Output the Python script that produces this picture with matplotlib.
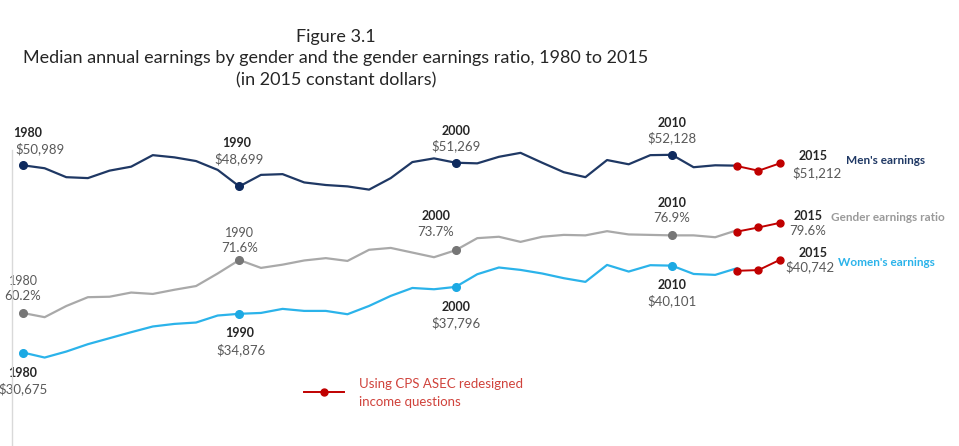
import matplotlib
matplotlib.use("Agg")
import matplotlib.pyplot as plt
from matplotlib.lines import Line2D

plt.rcParams['font.family'] = ['Lato', 'DejaVu Sans']

# ---------------- data ----------------
years = list(range(1980, 2014))
men = [50989, 50670, 49700, 49600, 50410, 50840, 52090, 51850, 51450, 50490,
       48699, 49950, 50030, 49130, 48850, 48700, 48350, 49600, 51340, 51740,
       51269, 51200, 51910, 52340, 51270, 50240, 49700, 51560, 51100, 52090,
       52128, 50780, 50990, 50950]
women = [30675, 30130, 30780, 31580, 32230, 32880, 33500, 33780, 33930, 34690,
         34876, 34970, 35410, 35190, 35190, 34830, 35730, 36820, 37680, 37540,
         37796, 39170, 39900, 39640, 39250, 38740, 38340, 40180, 39460, 40150,
         40101, 39200, 39100, 39820]
ratio = [60.2, 59.3, 61.7, 63.6, 63.7, 64.6, 64.3, 65.2, 66.0, 68.7,
         71.6, 69.9, 70.6, 71.5, 72.0, 71.4, 73.8, 74.2, 73.2, 72.2,
         73.7, 76.3, 76.6, 75.5, 76.6, 77.0, 76.9, 77.8, 77.1, 77.0,
         76.9, 76.9, 76.5, 78.0]

years_new = [2013, 2014, 2015]
men_new = [50910, 50400, 51212]
women_new = [39540, 39620, 40742]
ratio_new = [77.7, 78.6, 79.6]

highlight_years = [1980, 1990, 2000, 2010]

# ---------------- style ----------------
C_MEN, C_MEN_PT = '#1f3864', '#0e2a5e'
C_WOM, C_WOM_PT = '#2bb3ea', '#1ca9e3'
C_RAT, C_RAT_PT = '#a9a9a9', '#767676'
C_RED = '#c00000'
C_YEAR = '#262626'
C_VAL = '#595959'

fig = plt.figure(figsize=(9.59, 4.46), dpi=100)
ax = fig.add_axes([0, 0, 1, 1])
ax.set_xlim(1978.937, 2023.27)
ax.set_ylim(20533, 68924)
ax2 = ax.twinx()
ax2.set_ylim(31.59, 127.53)
ax.axis('off')
ax2.axis('off')

# light vertical axis line
fig.add_artist(Line2D([12 / 959, 12 / 959], [0, 1 - 150 / 446], color='#d9d9d9', lw=1))

LW = 1.6
ax.plot(years, men, color=C_MEN, lw=LW, zorder=3)
ax.plot(years, women, color=C_WOM, lw=LW, zorder=3)
ax2.plot(years, ratio, color=C_RAT, lw=LW, zorder=3)

hi_idx = [years.index(y) for y in highlight_years]
ax.plot([years[i] for i in hi_idx], [men[i] for i in hi_idx], 'o', color=C_MEN_PT, ms=5.5, zorder=4)
ax.plot([years[i] for i in hi_idx], [women[i] for i in hi_idx], 'o', color=C_WOM_PT, ms=5.5, zorder=4)
ax2.plot([years[i] for i in hi_idx], [ratio[i] for i in hi_idx], 'o', color=C_RAT_PT, ms=5.5, zorder=4)

ax.plot(years_new, men_new, '-o', color=C_RED, lw=1.4, ms=5, zorder=5)
ax.plot(years_new, women_new, '-o', color=C_RED, lw=1.4, ms=5, zorder=5)
red_line, = ax2.plot(years_new, ratio_new, '-o', color=C_RED, lw=1.4, ms=5, zorder=5)

FS_Y = 9
FS_V = 9.5


def lab(a, x, y, ytxt, vtxt, yoff, voff, ybold=True, ycol=C_YEAR):
    a.annotate(ytxt, (x, y), xytext=yoff, textcoords='offset pixels',
               ha='center', va='center', fontsize=FS_Y,
               fontweight='bold' if ybold else 'normal', color=ycol)
    a.annotate(vtxt, (x, y), xytext=voff, textcoords='offset pixels',
               ha='center', va='center', fontsize=FS_V, color=C_VAL)


# men labels
lab(ax, 1980, men[0], '1980', '$50,989', (5, 32), (17, 17))
lab(ax, 1990, men[10], '1990', '$48,699', (-3, 43), (0, 28))
lab(ax, 2000, men[20], '2000', '$51,269', (0, 32), (0, 17))
lab(ax, 2010, men[30], '2010', '$52,128', (0, 32), (0, 17))
lab(ax, 2015, men_new[2], '2015', '$51,212', (33, 7), (37, -9))

# ratio labels
lab(ax2, 1980, ratio[0], '1980', '60.2%', (0, 32), (0, 17), ybold=False, ycol=C_VAL)
lab(ax2, 1990, ratio[10], '1990', '71.6%', (0, 27), (0, 12), ybold=False, ycol=C_VAL)
lab(ax2, 2000, ratio[20], '2000', '73.7%', (-20, 34), (-20, 18))
lab(ax2, 2010, ratio[30], '2010', '76.9%', (0, 32), (0, 17))
lab(ax2, 2015, ratio_new[2], '2015', '79.6%', (28, 7), (28, -8))

# women labels
lab(ax, 1980, women[0], '1980', '$30,675', (0, -20), (0, -36))
lab(ax, 1990, women[10], '1990', '$34,876', (0, -19), (2, -36))
lab(ax, 2000, women[20], '2000', '$37,796', (0, -20), (0, -36))
lab(ax, 2010, women[30], '2010', '$40,101', (0, -19), (0, -35))
lab(ax, 2015, women_new[2], '2015', '$40,742', (33, 7), (30, -7))

# series names
ax.annotate("Men's earnings", (2015, men_new[2]), xytext=(66, 3), textcoords='offset pixels',
            ha='left', va='center', fontsize=8.5, fontweight='bold', color=C_MEN)
ax2.annotate("Gender earnings ratio", (2015, ratio_new[2]), xytext=(51, 5), textcoords='offset pixels',
             ha='left', va='center', fontsize=8.5, fontweight='bold', color='#9a9a9a')
ax.annotate("Women's earnings", (2015, women_new[2]), xytext=(58, -3), textcoords='offset pixels',
            ha='left', va='center', fontsize=8.5, fontweight='bold', color=C_WOM)

# legend (key drawn by legend, label as separate text for line spacing)
leg = ax2.legend([red_line], [' '],
                 loc='center left', bbox_to_anchor=(304 / 959, 1 - 393 / 446),
                 frameon=False, fontsize=9.5, handlelength=3.0, handletextpad=0.2,
                 borderpad=0, borderaxespad=0)
fig.text(359 / 959, 1 - 393 / 446, 'Using CPS ASEC redesigned\nincome questions',
         ha='left', va='center', fontsize=9.5, color='#d0433c', linespacing=1.5)

# titles
fig.text(336 / 959, 1 - 37 / 446, 'Figure 3.1', ha='center', va='center', fontsize=13, color='#262626')
fig.text(336 / 959, 1 - 58 / 446, 'Median annual earnings by gender and the gender earnings ratio, 1980 to 2015',
         ha='center', va='center', fontsize=13, color='#262626')
fig.text(336 / 959, 1 - 80 / 446, '(in 2015 constant dollars)', ha='center', va='center', fontsize=13, color='#262626')

fig.savefig('out.png', dpi=100)
